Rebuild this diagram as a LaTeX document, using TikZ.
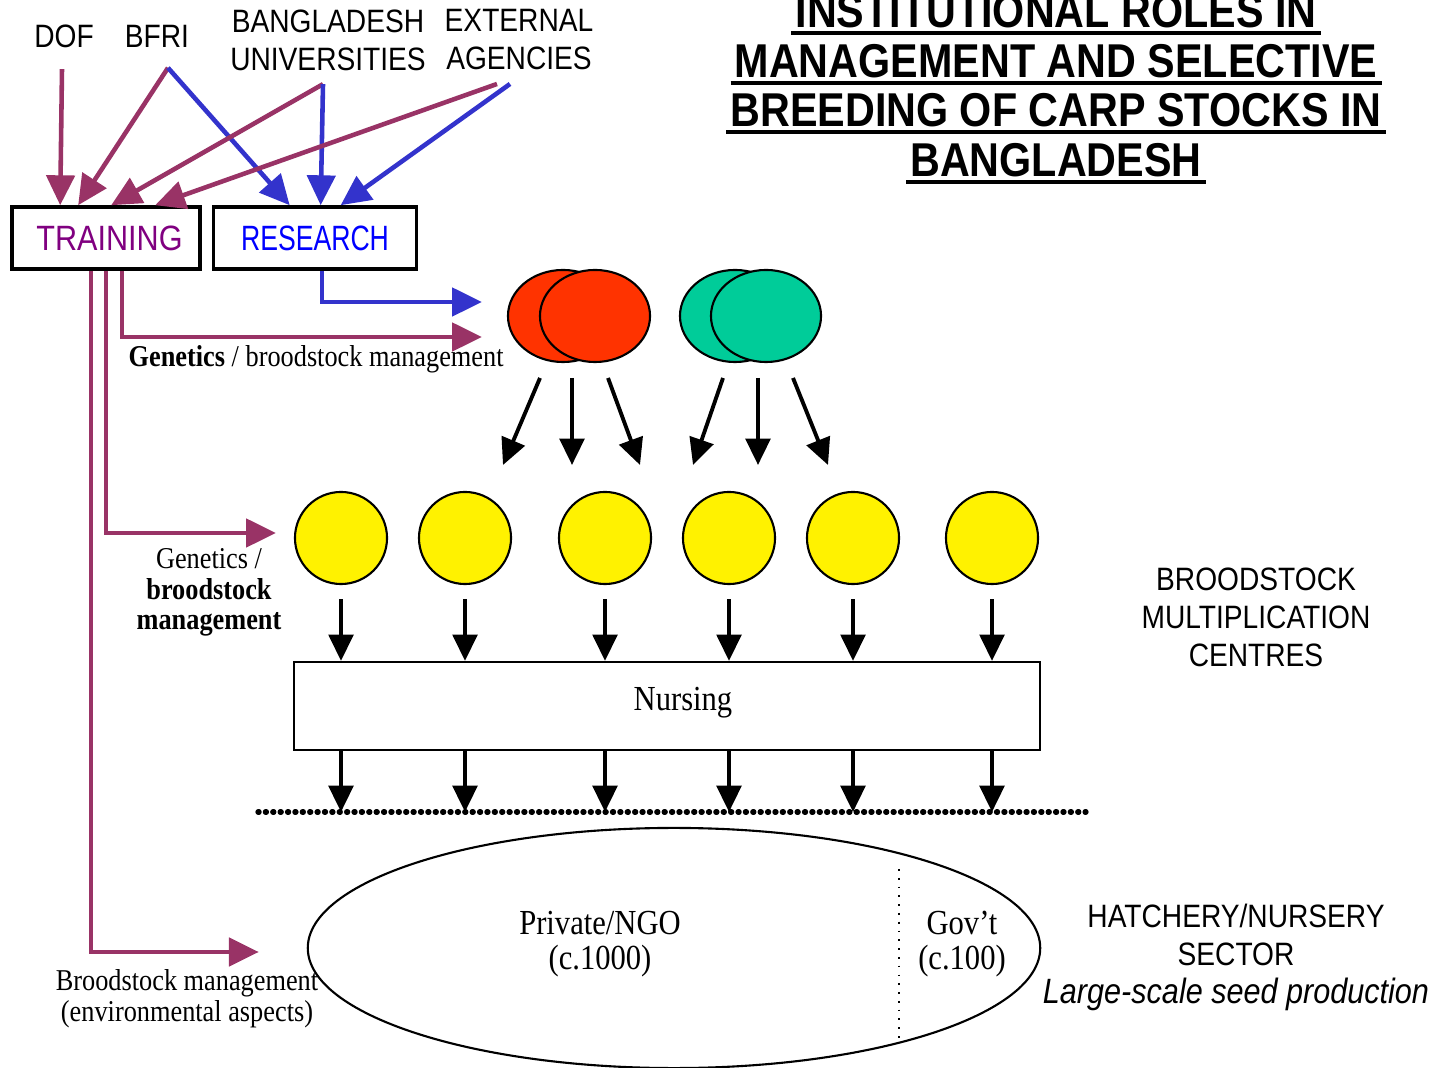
\documentclass[tikz,border=0pt]{standalone}
\usepackage{fontspec}
\setmainfont{Liberation Serif}[FakeStretch=0.87]
\newfontfamily\labelfont{Liberation Sans}[FakeStretch=0.87]
\usepackage{xcolor}
\usepackage{tikz}
\usetikzlibrary{positioning, arrows.meta, shapes.geometric, calc}
\definecolor{trainarrow}{HTML}{993366}
\definecolor{trainword}{HTML}{800080}
\definecolor{resarrow}{HTML}{3333CC}
\definecolor{carpred}{HTML}{FF3300}
\definecolor{carpgreen}{HTML}{00CC99}
\tikzset{
    lbl/.style={font=\labelfont\fontsize{9.2}{10.8}\selectfont, align=center, inner sep=0pt},
    ttl/.style={font=\labelfont\bfseries\fontsize{13.5}{14}\selectfont, inner xsep=1pt, inner ysep=0pt, anchor=base},
    ulline/.style={line width=1.2pt},
    rolebox/.style={draw, line width=1pt, minimum height=0.62cm, font=\labelfont\fontsize{10}{12}\selectfont},
    parrow/.style={-{Triangle[length=8.5pt, width=8pt]}, line width=1.3pt, trainarrow},
    barrow/.style={-{Triangle[length=8.5pt, width=8pt]}, line width=1.3pt, resarrow},
    karrow/.style={-{Triangle[length=7.5pt, width=7pt]}, line width=1.1pt, black},
    fish/.style={ellipse, draw, line width=0.6pt, minimum width=1.1cm, minimum height=0.92cm, inner sep=0pt},
    pond/.style={circle, draw, fill=yellow, line width=0.6pt, minimum size=0.92cm, inner sep=0pt},
    smallnote/.style={font=\fontsize{8.6}{8.8}\selectfont, align=center, inner sep=0pt, anchor=base},
    bignote/.style={font=\fontsize{10}{9.8}\selectfont, align=center, inner sep=0pt, anchor=base},
    seam/.style={line width=1.5pt, dash pattern=on 0.3pt off 1.8pt, line cap=round}
}
\begin{document}
\begin{tikzpicture}[x=0.01cm, y=-0.01cm]
\useasboundingbox (0,0) rectangle (1437,1068);

% title
\node[ttl] (t1) at (1056,28) {INSTITUTIONAL ROLES IN};
\node[ttl] (t2) at (1056,78) {MANAGEMENT AND SELECTIVE};
\node[ttl] (t3) at (1056,127) {BREEDING OF CARP STOCKS IN};
\node[ttl] (t4) at (1056,177) {BANGLADESH};
\foreach \t in {t1,t2,t3,t4}
    \draw[ulline] ($(\t.base west)+(0,5)$) -- ($(\t.base east)+(0,5)$);

% institutions
\node[lbl] (dof) at (64,36) {DOF};
\node[lbl] (bfri) at (157,36) {BFRI};
\node[lbl] (univ) at (328,40) {BANGLADESH\\UNIVERSITIES};
\node[lbl] (ext) at (519,40) {EXTERNAL\\AGENCIES};

\node[rolebox, text=trainword, minimum width=1.88cm] (train) at (106,238) {\hspace{2pt}TRAINING};
\node[rolebox, text=blue, minimum width=2.03cm] (research) at (315,238) {\scalebox{0.87}[1]{RESEARCH}};

\draw[parrow] ($(dof.south)+(-2,21)$) -- ($(train.north west)+(50,0)$);
\draw[parrow] ($(bfri.south)+(11,20)$) -- ($(train.north west)+(68,0)$);
\draw[barrow] ($(bfri.south)+(11,20)$) -- ($(research.north west)+(78,0)$);
\draw[parrow] ($(univ.south)+(-5,13)$) -- ($(train.north west)+(101,0)$);
\draw[barrow] ($(univ.south)+(-5,13)$) -- ($(research.north west)+(109,0)$);
\draw[parrow] ($(ext.south)+(-22,13)$) -- ($(train.north west)+(145,0)$);
\draw[barrow] ($(ext.south)+(-9,13)$) -- ($(research.north west)+(129,0)$);

% carp stocks
\node[fish, fill=carpred] (redA) at (563,316) {};
\node[fish, fill=carpred] (redB) at (595,316) {};
\node[fish, fill=carpgreen] (greenA) at (735,316) {};
\node[fish, fill=carpgreen] (greenB) at (766,316) {};

\draw[barrow] ($(research.south)+(7,0)$) |- ($(redA.west)+(-25,-14)$);
\draw[parrow] ($(train.south)+(16,0)$) |- ($(redA.west)+(-25,21)$);
\node[smallnote, anchor=base west] (gen1) at (128,367) {\textbf{Genetics} / broodstock management};

\foreach \a/\b in {-55/-92, -23/-23, 13/45}
    \draw[karrow] ($(redB)+(\a,62)$) -- ($(redB)+(\b,149)$);
\foreach \a/\b in {-43/-73, -8/-8, 27/62}
    \draw[karrow] ($(greenB)+(\a,62)$) -- ($(greenB)+(\b,149)$);

% multiplication centres
\foreach \x [count=\i] in {341,465,605,729,853,992}
    \node[pond] (y\i) at (\x,538) {};

\draw[parrow] (train.south) |- ($(y1.west)+(-18,-5)$);
\node[smallnote] (gen2) at (209,630) {Genetics /\\\textbf{broodstock}\\\textbf{management}};

\node[draw, line width=0.6pt, minimum width=7.45cm, minimum height=0.88cm] (nursing) at (667,706) {};
\node[bignote] (nurslbl) at (683,711) {Nursing};
\coordinate (seamL) at (258,812);
\coordinate (seamR) at (1086,812);
\draw[seam] (seamL) -- (seamR);

\foreach \i in {1,...,6} {
    \draw[karrow] ($(y\i.south)+(0,14)$) -- (y\i.south |- nursing.north);
    \draw[karrow] (y\i.south |- nursing.south) -- (y\i.south |- seamL);
}

\node[lbl] (bmc) at (1256,617) {BROODSTOCK\\MULTIPLICATION\\CENTRES};

% hatcheries
\node[ellipse, draw, line width=0.6pt, minimum width=7.32cm, minimum height=2.40cm, inner sep=0pt] (hatch) at (674,948) {};
\draw[dotted, line width=0.5pt] (899,869) -- (899,1042);
\node[bignote] (priv) at (600,969) {Private/NGO\\(c.1000)};
\node[bignote] (gov) at (962,969) {Gov’t\\(c.100)};

\draw[parrow] ($(train.south)+(-15,0)$) |- ($(hatch.west)+(-48,4)$);
\node[smallnote] (bm) at (187,1021) {Broodstock management\\(environmental aspects)};

\node[lbl] (hns) at (1236,957) {HATCHERY/NURSERY\\SECTOR\\\fontsize{10}{10.8}\selectfont\textit{Large-scale seed production}};
\end{tikzpicture}
\end{document}
